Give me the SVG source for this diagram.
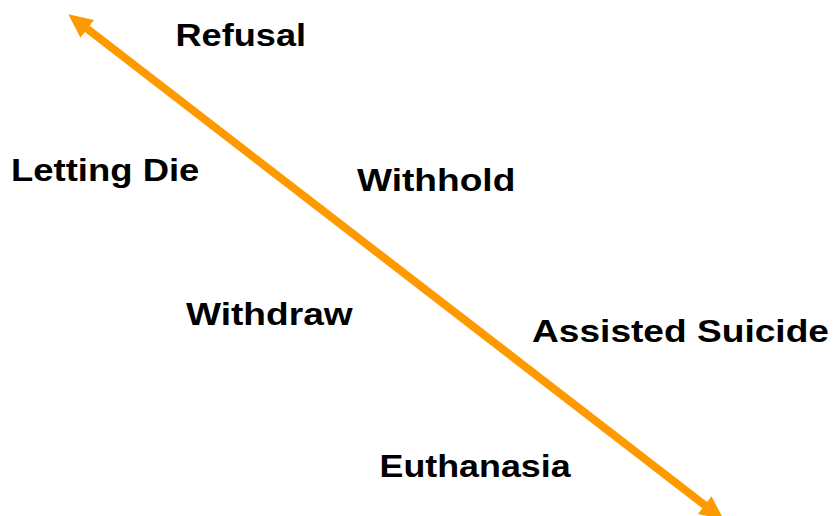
<svg xmlns="http://www.w3.org/2000/svg" width="835" height="516" viewBox="0 0 835 516">
<style>
.lbl{font-family:"Liberation Sans",Arial,sans-serif;font-weight:bold;font-size:32px;fill:#000}
.axis{stroke:#FF9900;stroke-width:8;fill:none}
</style>
<defs>
<marker id="ah" viewBox="0 0 3 2.8" refX="0.05" refY="1.4" markerWidth="3" markerHeight="2.8" markerUnits="strokeWidth" orient="auto-start-reverse">
<path d="M0,0 L3,1.4 L0,2.8 z" fill="#FF9900"/>
</marker>
</defs>
<rect width="835" height="516" fill="#fff"/>
<g id="connectors">
<line class="axis" x1="87" y1="28.7" x2="705" y2="505.3" marker-start="url(#ah)" marker-end="url(#ah)"/>
</g>
<g id="refusal"><text class="lbl" transform="translate(175.5,45.5) scale(1.13,1)">Refusal</text></g>
<g id="letting-die"><text class="lbl" transform="translate(11,180.5) scale(1.14,1)">Letting Die</text></g>
<g id="withhold"><text class="lbl" transform="translate(357,190.5) scale(1.16,1)">Withhold</text></g>
<g id="withdraw"><text class="lbl" transform="translate(186,324.5) scale(1.16,1)">Withdraw</text></g>
<g id="assisted-suicide"><text class="lbl" transform="translate(532,342) scale(1.16,1)">Assisted Suicide</text></g>
<g id="euthanasia"><text class="lbl" transform="translate(379.5,477) scale(1.12,1)">Euthanasia</text></g>
</svg>
